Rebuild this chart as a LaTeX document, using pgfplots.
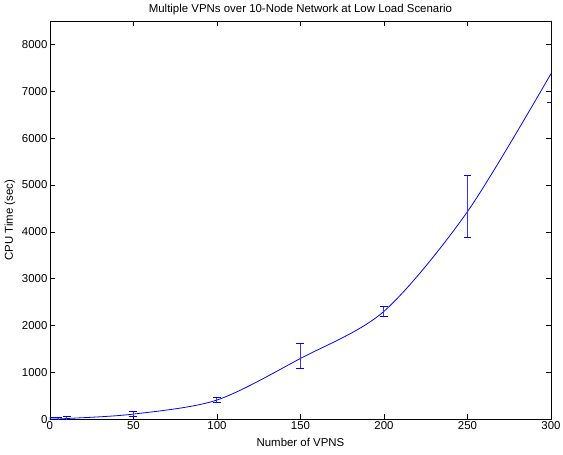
\documentclass[border=0pt]{standalone}
\usepackage{pgfplots}
\pgfplotsset{compat=1.18}
\usetikzlibrary{calc}
\usepackage{fontspec}
\setmainfont{Liberation Sans}

\begin{document}
\begin{tikzpicture}
\begin{axis}[
  width=502bp, height=399bp, scale only axis,
  xmin=0, xmax=300, ymin=0, ymax=8500,
  xtick={0,50,...,300},
  ytick={0,1000,...,8000},
  tick align=inside,
  major tick length=5bp,
  axis line style={line width=0.8pt},
  tick style={line width=0.6pt, black},
  font=\fontsize{11.5}{13}\selectfont,
  /pgf/number format/assume math mode=true,
  /pgf/number format/1000 sep={},
  title={Multiple VPNs over 10-Node Network at Low Load Scenario},
  every axis title shift=0pt,
  title style={at={(axis description cs:0.5,1.0276)}, anchor=center, yshift=0pt},
  xlabel={Number of VPNS},
  ylabel={CPU Time (sec)},
  xlabel style={at={(axis description cs:0.5,-0.0576)}, anchor=center},
  ylabel style={at={(axis description cs:-0.0797,0.5)}, anchor=center},
  xticklabel style={yshift=1bp},
  yticklabel style={xshift=1bp},
]
\addplot[blue, line width=0.8pt, smooth, tension=0.5, mark=none,
  error bars/.cd, y dir=both, y explicit,
  error bar style={blue!80, line width=1pt},
  error mark options={blue, line width=0.8pt, mark size=4bp, rotate=90}]
  table[x=x, y=y, y error plus=ep, y error minus=em] {
  x    y     ep    em
  0    3     40    40
  5    8     40    40
  10   15    40    40
  50   110   60    50
  100  410   50    50
  150  1298  312   213
  200  2304  106   106
  250  4432  766   553
  300  7376  1400  616
};
\end{axis}
\pgfresetboundingbox
\path ($(current axis.south west)+(-50bp,-35bp)$) rectangle ($(current axis.north east)+(12bp,21bp)$);
\end{tikzpicture}
\end{document}
